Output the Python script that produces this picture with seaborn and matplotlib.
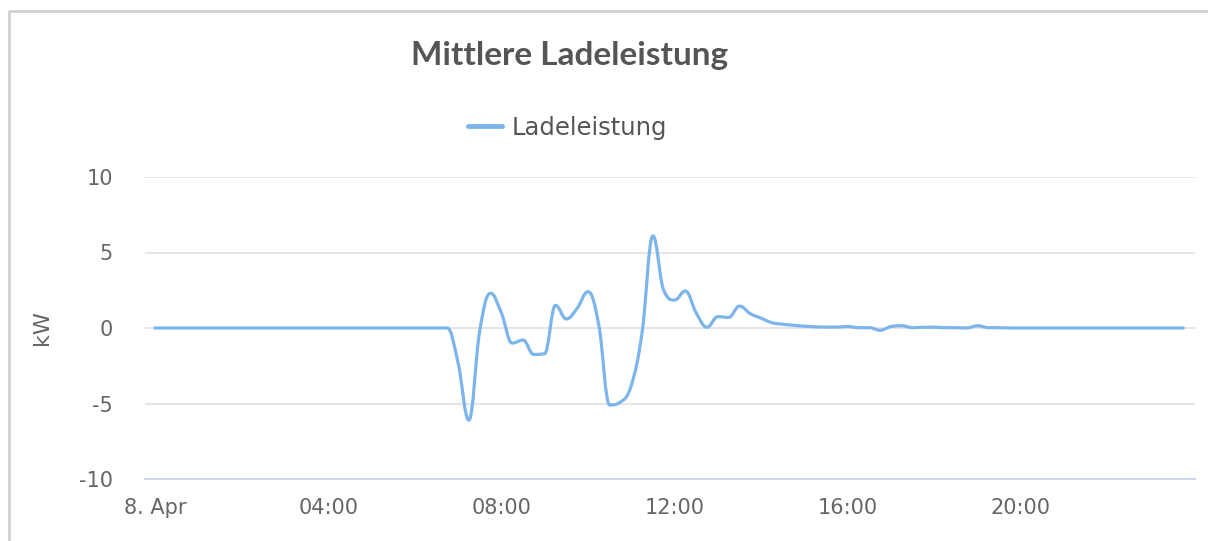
import numpy as np
import pandas as pd
import matplotlib
matplotlib.use("Agg")
import matplotlib.pyplot as plt
from matplotlib.lines import Line2D
from matplotlib.path import Path
from matplotlib.patches import PathPatch
import seaborn as sns

# Average charging power on 8 April, one value per quarter hour (kW)
power_kw = [
    0, 0, 0, 0, 0, 0, 0, 0, 0, 0, 0, 0, 0, 0, 0, 0, 0, 0, 0, 0, 0, 0, 0, 0, 0, 0, 0,
    0.0, -2.3, -6.1, -0.2, 2.3, 1.0, -1.0, -0.8, -1.75, -1.7, 1.5, 0.6, 1.3,
    2.4, 0.2, -5.1, -4.9, -3.8, -0.3, 6.1, 2.5, 1.85, 2.45, 1.0, 0.05, 0.75,
    0.7, 1.45, 0.95, 0.65, 0.35, 0.25, 0.18, 0.12, 0.08, 0.06, 0.06, 0.1,
    0.02, 0.02, -0.15, 0.1, 0.15, 0.02, 0.05, 0.05, 0.02, 0.02, 0.0, 0.15,
    0.02, 0.02,
    0, 0, 0, 0, 0, 0, 0, 0, 0, 0, 0, 0, 0, 0, 0, 0, 0,
]
hours = np.arange(len(power_kw)) * 0.25

tick_hours = [0, 4, 8, 12, 16, 20]
tick_labels = ["8. Apr", "04:00", "08:00", "12:00", "16:00", "20:00"]
y_ticks = [-10, -5, 0, 5, 10]
series_name = "Ladeleistung"

df = pd.DataFrame({"hour": hours, "kW": power_kw})


def spline_path(xs, ys, smoothing=1.5):
    """Cubic Bezier path through every (x, y) vertex, spline-style rendering."""
    n = len(xs)
    denom = smoothing + 1.0
    left = [(xs[i], ys[i]) for i in range(n)]
    right = [(xs[i], ys[i]) for i in range(n)]
    for i in range(1, n - 1):
        x0, y0 = xs[i - 1], ys[i - 1]
        x1, y1 = xs[i], ys[i]
        x2, y2 = xs[i + 1], ys[i + 1]
        lx = (smoothing * x1 + x0) / denom
        ly = (smoothing * y1 + y0) / denom
        rx = (smoothing * x1 + x2) / denom
        ry = (smoothing * y1 + y2) / denom
        if rx != lx:
            corr = (ry - ly) * (rx - x1) / (rx - lx) + y1 - ry
            ly += corr
            ry += corr
        if ly > max(y0, y1):
            ly = max(y0, y1)
            ry = 2 * y1 - ly
        elif ly < min(y0, y1):
            ly = min(y0, y1)
            ry = 2 * y1 - ly
        if ry > max(y1, y2):
            ry = max(y1, y2)
            ly = 2 * y1 - ry
        elif ry < min(y1, y2):
            ry = min(y1, y2)
            ly = 2 * y1 - ry
        left[i] = (lx, ly)
        right[i] = (rx, ry)
    verts = [(xs[0], ys[0])]
    codes = [Path.MOVETO]
    for i in range(1, n):
        verts += [right[i - 1], left[i], (xs[i], ys[i])]
        codes += [Path.CURVE4] * 3
    return Path(verts, codes)


sns.set_theme(style="white")
plt.rcParams["font.family"] = ["DejaVu Sans"]

W, H = 1208, 541
fig = plt.figure(figsize=(W / 100, H / 100), dpi=100)
ax = fig.add_axes([145 / W, 1 - 479 / H, (1195 - 145) / W, (479 - 177) / H])

line_color = "#7cb5ec"
sns.lineplot(data=df, x="hour", y="kW", ax=ax, color=line_color,
             linewidth=2.3, legend=False)

# redraw the series line as a smooth spline through the same vertices
series_line = ax.get_lines()[0]
xd, yd = series_line.get_xdata(), series_line.get_ydata()
series_line.remove()
ax.add_patch(PathPatch(spline_path(list(xd), list(yd)), facecolor="none",
                       edgecolor=line_color, linewidth=2.3, capstyle="round",
                       joinstyle="round", zorder=3))

ax.set_xlim(-0.23, 24.02)
ax.set_ylim(-10, 10)
ax.set_yticks(y_ticks)
ax.set_yticklabels([str(v) for v in y_ticks])
ax.set_xticks(tick_hours)
ax.set_xticklabels(tick_labels)

for v in y_ticks[1:]:
    ax.axhline(v, color="#e3e3e3", linewidth=1.3, zorder=0)

for side in ("top", "right", "left"):
    ax.spines[side].set_visible(False)
ax.spines["bottom"].set_color("#ccd6eb")
ax.spines["bottom"].set_linewidth(1.5)

ax.tick_params(axis="y", length=0, pad=23, labelsize=15, labelcolor="#666666")
ax.tick_params(axis="x", length=0, pad=14, labelsize=15, labelcolor="#666666")
ax.set_xlabel("")
ax.set_ylabel("kW", fontsize=16, color="#666666")
ax.yaxis.set_label_coords(-0.089, 0.5, transform=ax.transAxes)

fig.text(570 / W, 1 - 55 / H, "Mittlere Ladeleistung", ha="center", va="center",
         fontsize=24, fontweight="bold", color="#555555", family=["Lato", "DejaVu Sans"])

handle = Line2D([], [], color=line_color, linewidth=3.5)
fig.legend([handle], [series_name], loc="center", bbox_to_anchor=(568 / W, 1 - 128 / H),
           frameon=False, fontsize=17.5, handlelength=1.4, handletextpad=0.4,
           labelcolor="#555555")

# light frame around the chart area (top and left edges)
frame_kw = dict(color="#d2d2d2", linewidth=2, transform=fig.transFigure)
fig.add_artist(Line2D([8.5 / W, 1.0], [1 - 10.5 / H, 1 - 10.5 / H], **frame_kw))
fig.add_artist(Line2D([8.5 / W, 8.5 / W], [0.0, 1 - 10.5 / H], **frame_kw))

fig.savefig("out.png", dpi=100, facecolor="white")
